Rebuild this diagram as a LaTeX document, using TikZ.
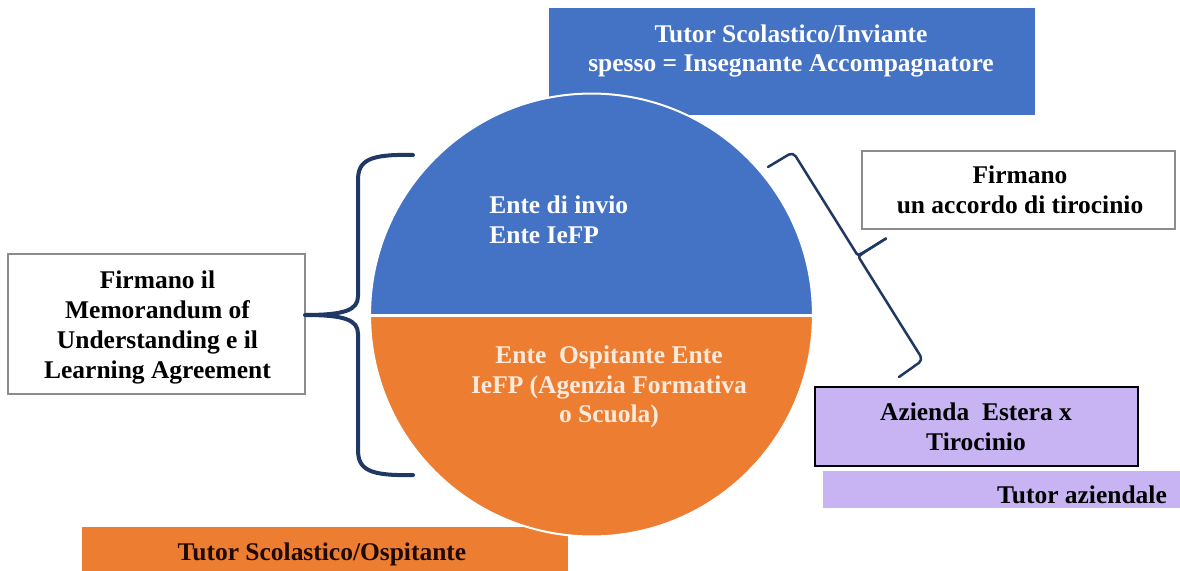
\documentclass[tikz,border=0pt]{standalone}
\usepackage{fontspec}
\setmainfont{Liberation Serif}
\definecolor{pblue}{HTML}{4472C4}
\definecolor{porange}{HTML}{ED7D31}
\definecolor{ppurple}{HTML}{C8B4F2}
\definecolor{navy}{HTML}{203864}
\definecolor{gray1}{HTML}{8C8C8C}
\definecolor{cream}{HTML}{FCEBDD}
\definecolor{darktxt}{HTML}{1E0A02}
\begin{document}
\begin{tikzpicture}[x=0.02cm,y=-0.02cm,
  box/.style={rectangle, inner sep=0pt, outer sep=0pt},
  txt/.style={font=\bfseries\fontsize{14.5pt}{17pt}\selectfont, align=center, inner sep=0pt},
  bracestyle/.style={draw=navy, line cap=round, line join=round}]
\useasboundingbox (0,0) rectangle (1180,571);
\fill[white] (0,0) rectangle (1180,571);

% top blue box
\node[box, fill=pblue, minimum width=9.72cm, minimum height=2.14cm] (tutorinv) at (792,61.5) {};
\node[txt, text=white] (tutorinvtxt) at (791,51) {Tutor Scolastico/Inviante\\spesso = Insegnante Accompagnatore};

% bottom orange box
\node[box, fill=porange, minimum width=9.72cm, minimum height=0.96cm] (tutorosp) at (325,551) {};
\node[txt, text=darktxt, anchor=base] (tutorosptxt) at (322,560) {Tutor Scolastico/Ospitante};

% circle
\coordinate (c) at (591.5,315);
\fill[pblue] (813,315) arc[start angle=0, end angle=-180, radius=221.5] -- cycle;
\fill[porange] (813,315) arc[start angle=0, end angle=180, radius=221.5] -- cycle;
\node[circle, draw=white, line width=0.04cm, minimum size=8.86cm, inner sep=0pt] (disc) at (c) {};
\draw[white, line width=0.06cm] (disc.west) -- (disc.east);

\node[txt, text=white, align=left, anchor=west] (sender) at (489,220) {Ente di invio\\Ente IeFP};
\node[txt, text=cream] (host) at (609,387) {Ente\ \ Ospitante Ente\\IeFP (Agenzia Formativa\\o Scuola)};

% left box
\node[box, draw=gray1, line width=0.03cm, fill=white, minimum width=5.94cm, minimum height=2.8cm] (mou) at (156.5,324) {};
\node[txt] (moutxt) at (157.5,327.75) {Firmano il\\Memorandum of\\Understanding e il\\Learning Agreement};

% right box
\node[box, draw=gray1, line width=0.03cm, fill=white, minimum width=6.26cm, minimum height=1.56cm] (acc) at (1018.5,190) {};
\node[txt] (acctxt) at (1020,189.75) {Firmano\\un accordo di tirocinio};

% azienda
\node[box, fill=ppurple, draw=black, line width=0.04cm, minimum width=6.46cm, minimum height=1.58cm] (az) at (976.5,426.5) {};
\node[txt] (aztxt) at (976,426.5) {Azienda\ \ Estera x\\Tirocinio};

% tutor aziendale
\node[box, fill=ppurple, minimum width=7.14cm, minimum height=0.74cm] (taz) at (1001.5,489.5) {};
\node[txt, anchor=base] (taztxt) at (1082,503) {Tutor aziendale};

% left brace
\draw[bracestyle, line width=0.08cm]
  (413,155) .. controls (370,154) and (358,160) .. (358,180) -- (358,296)
  .. controls (358,310) and (345,315) .. (305,315)
  .. controls (345,315) and (358,320) .. (358,334) -- (358,450)
  .. controls (358,470) and (370,476) .. (413,475);

% right brace
\draw[bracestyle, line width=0.05cm, rounded corners=0.1cm]
  (768,167) -- (793,152) -- (853.8,249.2)
  .. controls (858,256) .. (886,238.5);
\draw[bracestyle, line width=0.05cm, rounded corners=0.1cm]
  (886,238.5) .. controls (858,256) .. (862.2,262.8)
  -- (923,360) -- (899,377);
\end{tikzpicture}
\end{document}
